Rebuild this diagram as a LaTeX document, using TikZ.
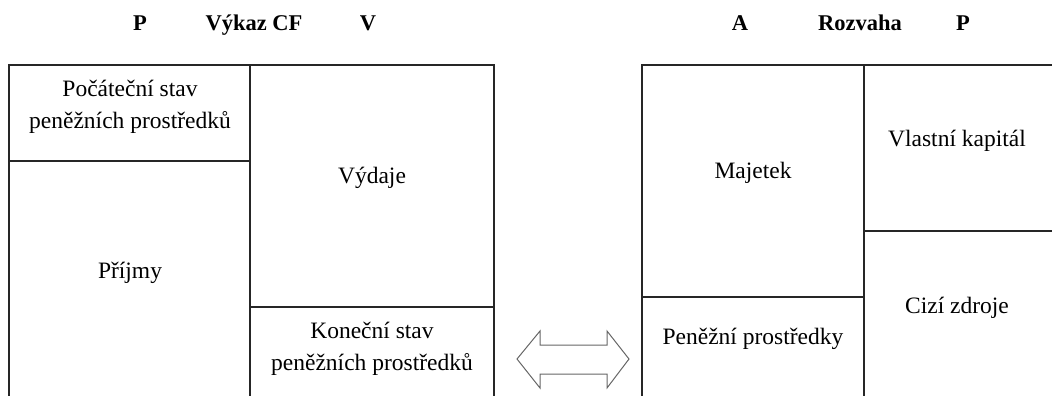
\documentclass[tikz,border=0pt]{standalone}
\usepackage{fontspec}
\setmainfont{Liberation Serif}
\begin{document}
\begin{tikzpicture}[x=1pt,y=-1pt,
  line/.style={draw=black!85,line width=1.2pt},
  lbl/.style={font=\fontsize{23.5}{32}\selectfont,align=center,inner sep=0pt},
  hdr/.style={font=\fontsize{22.5}{26}\selectfont\bfseries,inner sep=0pt,anchor=base}]
\useasboundingbox (0,0) rectangle (1052,396);
% left table
\draw[line] (9,396) -- (9,65) -- (494,65) -- (494,396);
\draw[line] (250,65) -- (250,396);
\draw[line] (9,161) -- (250,161);
\draw[line] (250,307) -- (494,307);
% right table
\draw[line] (642,396) -- (642,65) -- (1052,65);
\draw[line] (864,65) -- (864,396);
\draw[line] (864,231) -- (1052,231);
\draw[line] (642,297) -- (864,297);
% headers
\node[hdr] (h1) at (140,31) {P};
\node[hdr] (h2) at (254,31) {Výkaz CF};
\node[hdr] (h3) at (368,31) {V};
\node[hdr] (h4) at (740,31) {A};
\node[hdr] (h5) at (860,31) {Rozvaha};
\node[hdr] (h6) at (963,31) {P};
% labels
\node[lbl] (poc) at (130,107) {Počáteční stav\\peněžních prostředků};
\node[lbl] (vyd) at (372,178) {Výdaje};
\node[lbl] (prij) at (130,273) {Příjmy};
\node[lbl] (kon) at (372,349) {Koneční stav\\peněžních prostředků};
\node[lbl] (maj) at (753,173) {Majetek};
\node[lbl] (vk) at (957,141) {Vlastní kapitál};
\node[lbl] (cz) at (957,308) {Cizí zdroje};
\node[lbl] (pp) at (753,339) {Peněžní prostředky};
% double arrow
\draw[draw=black!60,line width=1pt,line join=miter]
  (517,359) -- (540,331) -- (540,345) -- (607,345) -- (607,331) -- (629,359)
  -- (607,388) -- (607,374) -- (540,374) -- (540,388) -- cycle;
\end{tikzpicture}
\end{document}
